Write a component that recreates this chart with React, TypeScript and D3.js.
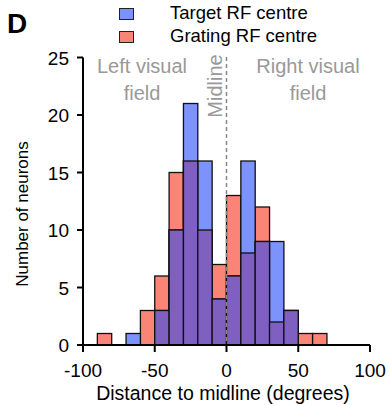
import React from "react";
import * as d3 from "d3";

const binStarts = [-90, -80, -70, -60, -50, -40, -30, -20, -10, 0, 10, 20, 30, 40, 50, 60];
const targetCounts = [0, 0, 1, 0, 3, 10, 21, 16, 4, 6, 16, 9, 9, 3, 0, 0];
const gratingCounts = [1, 0, 0, 3, 6, 15, 16, 10, 7, 13, 8, 12, 2, 3, 1, 1];
const xTicks = [-100, -50, 0, 50, 100];
const yTicks = [0, 5, 10, 15, 20, 25];
const binWidth = 10;

const BLUE = "#7b93fb";
const RED = "#fa8577";
const PURPLE = "#7f5fbf";
const FONT = "Liberation Sans, Arial, Helvetica, sans-serif";

export default function App() {
  const W = 389, H = 405;
  const x = d3.scaleLinear().domain([-100, 100]).range([83, 370]);
  const y = d3.scaleLinear().domain([0, 25]).range([345, 57.5]);

  const bars = (counts: number[], fill: string) =>
    binStarts.map((b, i) =>
      counts[i] > 0 ? (
        <rect key={fill + i} x={x(b)} y={y(counts[i])} width={x(b + binWidth) - x(b)}
          height={y(0) - y(counts[i])} fill={fill} stroke="#111" strokeWidth={1.3} />
      ) : null
    );
  const overlap = binStarts.map((_, i) => Math.min(targetCounts[i], gratingCounts[i]));

  return (
    <svg width={W} height={H} style={{ position: "absolute", left: 0, top: 0, fontFamily: FONT }}>
      <rect width={W} height={H} fill="white" />
      <text x={7} y={33} fontSize={28} fontWeight="bold">D</text>
      <rect x={119.5} y={8.5} width={14} height={11} fill={BLUE} stroke="#222" strokeWidth={1} />
      <text x={170} y={19} fontSize={18.5}>Target RF centre</text>
      <rect x={119.5} y={31.5} width={14} height={11} fill={RED} stroke="#222" strokeWidth={1} />
      <text x={170} y={42} fontSize={18.5}>Grating RF centre</text>

      {bars(gratingCounts, RED)}
      {bars(targetCounts, BLUE)}
      {bars(overlap, PURPLE)}

      <line x1={x(0)} x2={x(0)} y1={57} y2={345} stroke="#888" strokeWidth={1.5} strokeDasharray="4,3" />

      <g fill="#999" fontSize={20} textAnchor="middle">
        <text x={142} y={73}>Left visual</text>
        <text x={142} y={100}>field</text>
        <text x={308} y={73}>Right visual</text>
        <text x={308} y={100}>field</text>
        <text transform={`translate(222,86) rotate(-90)`}>Midline</text>
      </g>

      <g stroke="#000" strokeWidth={2}>
        <line x1={83} x2={83} y1={57.5} y2={345} />
        <line x1={83} x2={370} y1={345} y2={345} />
        {yTicks.map((t) => <line key={"yt" + t} x1={77} x2={83} y1={y(t)} y2={y(t)} />)}
        {xTicks.map((t) => <line key={"xt" + t} x1={x(t)} x2={x(t)} y1={345} y2={352} />)}
      </g>
      <g fontSize={19} textAnchor="end">
        {yTicks.map((t) => <text key={"yl" + t} x={69} y={y(t) + 7}>{t}</text>)}
      </g>
      <g fontSize={19} textAnchor="middle">
        {xTicks.map((t) => <text key={"xl" + t} x={x(t)} y={377}>{t}</text>)}
      </g>
      <text x={223} y={400} fontSize={19.5} textAnchor="middle">Distance to midline (degrees)</text>
      <text transform="translate(28,214) rotate(-90)" fontSize={17} textAnchor="middle">Number of neurons</text>
    </svg>
  );
}
